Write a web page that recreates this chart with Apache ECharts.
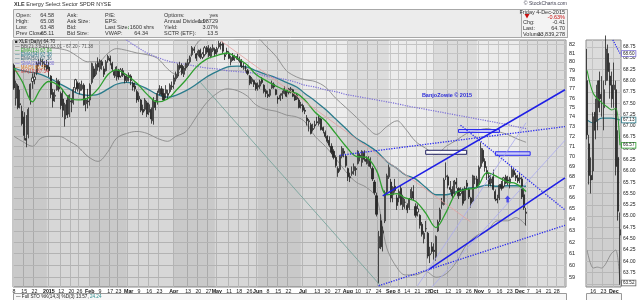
<!DOCTYPE html>
<html>
<head>
<meta charset="utf-8">
<script src="https://cdn.jsdelivr.net/npm/echarts@6/dist/echarts.min.js"></script>
<style>
html,body{margin:0;padding:0;background:#ffffff;}
#chart{width:640px;height:300px;}
</style>
</head>
<body>
<div id="chart"></div>
<script>
const FONT = '"Liberation Sans", Arial, sans-serif';

// ---------- calendar ----------
const holidays = ['2014-12-25','2015-01-01','2015-01-19','2015-02-16','2015-04-03','2015-05-25','2015-07-03','2015-09-07','2015-11-26','2015-12-25','2016-01-01'];
const firstDate = '2014-12-08';
const lastDate = '2016-01-04';
const panelFirstDate = '2015-11-11';
const panelLastDate = '2015-12-04';

// ---------- daily OHLC [open, high, low, close] ----------
const dec2014 = [[79.6,79.8,76.9,77.1],[76.0,77.9,75.2,77.6],[77.3,77.5,74.8,75.0],[75.4,76.9,74.9,75.3],[74.6,75.2,73.1,73.3],
[74.0,74.5,71.6,72.1],[71.8,74.2,70.9,71.6],[72.2,75.0,71.8,74.8],[75.8,77.6,75.3,77.5],[77.8,78.7,77.0,78.2],
[78.0,78.8,77.5,78.3],[78.8,80.0,78.5,79.8],[79.8,80.3,79.5,79.9],[80.0,80.4,79.6,80.1],[79.8,80.3,79.4,80.0],[79.7,80.1,79.1,79.4],[79.6,80.2,79.0,79.2]];
const jan2015 = [[79.4,80.0,78.3,79.0],[78.4,78.5,76.0,76.4],[76.6,77.0,75.0,75.7],[76.2,76.9,75.6,76.3],[76.9,78.2,76.8,77.9],[77.8,78.0,76.7,77.0],
[76.5,76.7,74.8,75.2],[75.9,77.0,74.0,74.7],[73.8,75.5,73.0,75.3],[75.8,76.3,73.9,74.2],[74.3,76.4,74.0,76.3],
[75.7,76.0,74.5,75.6],[75.5,77.2,75.3,76.9],[77.1,78.1,76.6,78.0],[77.6,77.8,76.7,77.0],
[76.8,77.7,76.4,77.5],[77.0,77.9,76.8,77.4],[77.4,77.6,75.2,75.3],[75.4,76.0,74.6,75.8],[75.7,77.0,74.9,75.6]];
const feb2015 = [[75.8,77.6,75.2,77.4],[77.7,79.9,77.5,79.8],[79.2,79.5,78.1,78.3],[78.6,79.9,78.4,79.7],[79.9,80.5,79.0,79.4],
[79.2,80.3,78.9,80.1],[80.0,80.2,79.1,79.6],[79.2,79.5,78.3,78.6],[79.0,80.2,78.9,80.0],[80.2,80.8,79.9,80.6],
[80.4,80.7,79.6,80.1],[79.8,80.0,78.9,79.2],[78.9,79.1,78.2,78.5],[78.4,79.5,77.9,79.4],
[79.0,79.2,78.0,78.3],[78.4,79.3,78.2,79.1],[79.0,79.3,78.3,78.5],[78.4,78.6,77.6,77.9],[77.9,78.6,77.7,78.3]];
const mar2015 = [[78.3,78.8,77.8,78.5],[78.4,78.6,77.4,77.9],[77.6,77.8,76.8,77.2],[77.3,77.7,76.7,77.0],[76.7,76.9,75.5,75.8],
[75.9,76.6,75.6,76.2],[75.8,75.9,74.5,74.7],[74.8,75.3,74.2,74.5],[74.8,76.0,74.6,75.8],[75.5,75.7,74.0,74.3],
[74.5,75.5,74.2,75.3],[74.8,75.0,73.3,73.8],[73.6,76.1,73.2,75.8],[75.6,75.8,74.7,75.0],[75.6,76.8,75.3,76.5],
[76.6,77.4,76.3,77.0],[77.0,77.3,76.2,76.4],[76.5,77.0,75.7,75.8],[76.5,77.4,76.0,76.9],[76.5,76.9,75.9,76.3],
[76.7,77.6,76.5,77.4],[77.2,77.8,76.9,77.3]];
const apr2015 = [[77.5,78.5,77.0,78.2],[78.1,78.9,77.8,78.6],[78.4,79.8,78.2,79.6],[79.6,80.0,79.1,79.3],[79.6,79.8,78.5,78.7],
[78.6,79.5,78.3,79.3],[79.3,79.9,79.0,79.8],[79.6,80.3,79.4,79.9],[80.0,80.7,79.8,80.5],[80.8,81.8,80.6,81.6],
[81.4,81.7,81.0,81.3],[80.9,81.0,80.1,80.4],[80.8,81.4,80.6,81.2],[81.3,81.5,80.3,80.5],[80.5,81.1,80.3,80.9],
[80.8,81.8,80.6,81.6],[81.6,81.8,80.9,81.1],[81.5,81.9,80.5,80.7],[80.6,81.7,80.4,81.5],[81.3,82.0,81.1,81.6],[81.4,81.6,80.6,80.9]];
const may2015 = [[81.1,81.7,80.8,81.5],[81.7,82.4,81.5,82.1],[82.0,82.3,81.4,81.9],[82.1,82.3,80.9,81.2],[80.8,81.0,80.2,80.6],
[81.2,81.6,80.8,81.1],[81.0,81.2,80.3,80.4],[80.0,80.7,79.6,80.5],[80.7,81.0,80.1,80.2],[80.5,80.8,80.1,80.6],
[80.6,80.9,80.2,80.3],[80.1,80.6,79.9,80.4],[80.2,80.3,79.3,79.5],[79.5,79.9,79.1,79.4],[79.3,79.6,78.9,79.3],
[79.0,79.2,78.5,78.7],[78.4,78.5,77.4,77.6],[77.8,78.3,77.5,78.1],[77.9,78.0,77.2,77.5],[77.6,77.7,76.8,77.0]];
const jun2015 = [[77.2,77.7,76.8,77.4],[77.3,78.0,77.0,77.8],[78.0,78.3,77.5,77.7],[77.4,77.5,76.5,76.7],[76.8,77.0,76.1,76.5],
[76.4,76.8,76.0,76.2],[76.3,77.0,76.1,76.9],[77.1,77.9,77.0,77.6],[77.5,77.7,77.0,77.2],[76.9,77.0,76.3,76.4],
[76.0,76.2,75.4,75.9],[75.9,76.5,75.7,76.3],[76.3,76.8,75.9,76.5],[76.5,77.3,76.4,77.0],[76.8,76.9,76.1,76.2],
[76.6,77.1,76.4,76.9],[76.9,77.2,76.5,77.0],[76.9,77.0,76.1,76.2],[76.3,76.6,75.7,75.8],[75.9,76.5,75.8,76.3],
[75.8,76.0,74.9,75.0],[75.3,75.6,74.9,75.2]];
const jul2015 = [[75.2,75.4,74.5,74.7],[74.7,75.0,74.3,74.6],[73.9,74.2,73.1,73.6],[73.5,73.8,72.5,73.6],[73.2,73.4,72.2,72.3],
[72.8,73.3,72.5,72.7],[73.2,73.6,72.8,73.1],[73.5,74.0,73.2,73.4],[73.3,74.1,73.1,73.9],[73.8,73.9,72.6,72.7],
[72.9,73.0,72.3,72.6],[72.4,72.6,71.8,72.0],[72.0,72.1,71.3,71.5],[71.6,72.0,70.9,71.1],[71.0,71.3,70.2,70.4],
[70.5,70.7,69.7,69.9],[69.9,70.1,68.9,69.1],[68.8,69.0,68.0,68.4],[68.7,70.1,68.5,70.0],[70.0,71.0,69.8,70.8],
[70.5,70.8,69.9,70.3],[70.0,70.2,68.9,69.1]];
const aug2015 = [[68.8,68.9,67.6,68.0],[68.0,68.4,67.5,67.9],[68.3,69.0,68.1,68.5],[68.6,69.3,68.2,69.0],[68.8,69.0,68.1,68.7],
[69.3,70.6,69.2,70.5],[70.1,70.3,69.5,69.9],[69.4,70.6,69.0,70.5],[70.3,70.6,69.5,69.7],[69.7,70.0,69.2,69.5],
[69.3,70.0,69.0,69.8],[69.7,69.9,68.8,69.0],[68.8,69.0,67.6,67.8],[67.5,67.7,66.3,66.5],[66.2,66.5,64.3,64.5],
[61.5,63.0,58.5,62.5],[63.9,64.5,61.4,61.6],[62.8,63.4,61.2,63.0],[63.9,66.7,63.7,66.5],[66.6,68.3,66.4,68.1],
[68.0,69.2,67.8,68.9]];
const sep2015 = [[67.5,67.8,65.6,66.0],[66.3,67.1,65.6,67.0],[67.1,67.8,66.5,66.7],[66.0,66.3,64.9,65.3],
[66.0,66.8,65.6,66.6],[66.9,67.2,65.3,65.4],[65.2,66.3,64.9,66.0],[65.6,65.9,65.0,65.6],
[65.3,65.5,64.6,64.9],[65.1,66.0,64.9,65.9],[66.0,67.0,65.9,66.8],[66.6,67.2,65.8,66.0],[65.2,65.5,64.2,64.4],
[64.7,65.4,64.3,65.0],[64.4,64.5,63.2,63.5],[63.6,63.8,62.5,62.7],[62.3,63.0,61.9,62.8],[63.2,63.9,62.9,63.2],
[62.8,62.9,60.6,60.8],[60.9,61.6,60.2,61.0],[61.6,62.0,61.0,61.2]];
const oct2015 = [[61.3,61.9,60.5,61.2],[60.7,62.6,60.4,62.5],[63.0,64.0,62.9,63.8],[64.0,65.1,63.8,64.9],[65.4,66.0,65.0,65.6],
[65.4,67.9,65.3,67.7],[68.0,69.4,67.7,68.1],[68.0,68.2,66.9,67.2],[67.0,67.6,66.5,66.8],[66.8,67.1,65.9,66.2],
[66.4,67.7,66.2,67.6],[67.5,67.9,66.9,67.3],[66.9,67.0,65.9,66.2],[66.4,67.0,66.2,66.6],[66.8,66.9,65.3,65.5],
[65.8,67.1,65.7,66.9],[67.4,67.7,66.8,67.1],[66.8,66.9,65.9,66.1],[66.0,66.1,65.1,65.5],[65.7,68.2,65.6,68.1],
[67.8,68.1,67.3,67.8],[67.8,68.1,66.9,67.0]];
const nov2015 = [[67.3,69.1,67.1,68.9],[69.0,71.4,68.8,70.8],[70.6,70.8,69.3,69.5],[69.5,69.8,68.5,68.9],[68.6,69.0,67.7,68.3],
[68.1,68.4,67.0,67.3],[67.4,68.2,67.1,67.8],[68.0,68.7,66.7,66.8],[66.6,66.8,65.7,65.9],[65.9,66.3,65.5,65.8],
[66.0,67.3,65.8,67.2],[67.3,67.6,66.7,66.9],[67.1,68.0,66.9,67.9],[68.0,68.2,67.3,67.4],[67.7,68.1,67.2,67.6],
[67.4,68.0,66.9,67.8],[68.0,69.0,67.9,68.7],[68.6,68.8,68.0,68.2],[68.1,68.4,67.6,67.9],[67.9,68.2,67.4,67.6]];
const dec2015 = [[67.8,68.4,67.4,67.9],[67.8,68.0,65.9,66.1],[66.3,66.9,64.9,65.11],[64.58,65.08,63.48,64.70]];

// ---------- overlays read at week ends ----------
const weekEnds = ['2014-12-08','2014-12-12','2014-12-19','2014-12-26','2015-01-02','2015-01-09','2015-01-16','2015-01-23','2015-01-30',
'2015-02-06','2015-02-13','2015-02-20','2015-02-27','2015-03-06','2015-03-13','2015-03-20','2015-03-27','2015-04-02','2015-04-10',
'2015-04-17','2015-04-24','2015-05-01','2015-05-08','2015-05-15','2015-05-22','2015-05-29','2015-06-05','2015-06-12','2015-06-19',
'2015-06-26','2015-07-02','2015-07-10','2015-07-17','2015-07-24','2015-07-31','2015-08-07','2015-08-14','2015-08-21','2015-08-28',
'2015-09-04','2015-09-11','2015-09-18','2015-09-25','2015-10-02','2015-10-09','2015-10-16','2015-10-23','2015-10-30','2015-11-06',
'2015-11-13','2015-11-20','2015-11-27','2015-12-04'];
const emaGreen = [79.3, 77.8,75.6,77.0, 77.8,77.3,76.0,75.8,76.0, 77.0,78.6,79.1,78.5, 77.6,76.4,75.6,75.9, 76.8,78.0,79.4,80.3,
80.7,81.0,80.4,79.6,78.6, 77.9,77.3,76.8,76.5, 75.8,74.5,73.6,72.3,71.0, 70.0,69.9,68.6,66.3, 66.4,66.0,65.7,64.6,
63.3,64.7,66.5,66.8,67.0, 68.4,68.0,67.5,67.35, 66.6];
const emaTeal = [79.3, 79.0,78.8,78.6, 78.2,77.6,77.0,76.5,76.3, 76.4,77.0,77.5,77.7, 77.5,77.0,76.4,76.1, 76.3,76.8,77.5,78.3,
78.9,79.4,79.5,79.4,79.0, 78.6,78.2,77.7,77.2, 76.5,75.7,74.8,73.8,72.8, 71.8,71.2,70.5,69.5, 68.8,68.2,67.8,67.0,
66.3,66.3,66.6,66.9,67.0, 67.2,67.1,67.15,67.15, 67.1];
const bbUpper = [86.0, 84.0,82.5,81.8, 81.6,81.5,81.2,80.6,80.0, 80.0,81.0,81.5,81.3, 81.0,80.8,80.4,79.2, 78.6,79.8,82.0,83.0,
83.2,82.9,82.6,82.6,82.8, 81.8,80.6,79.0,78.3, 78.0,77.8,77.2,76.0,75.0, 74.0,73.0,72.2,73.0, 73.6,72.8,71.5,70.8,
70.2,71.0,71.6,72.3,72.6, 72.8,72.5,72.2,71.8, 71.4];
const bbLower = [72.0, 71.5,71.0,71.8, 72.0,72.0,71.5,71.0,70.0, 69.5,70.5,71.8,72.3, 72.5,72.3,71.8,71.5, 72.0,72.5,74.0,75.5,
76.5,77.0,76.8,76.2,75.3, 74.8,74.6,74.2,74.0, 73.5,72.0,71.0,69.8,68.5, 67.5,67.0,66.0,61.5, 59.8,59.2,59.2,59.5,
59.0,59.3,60.3,61.8,62.6, 63.0,63.9,63.9,64.2, 63.5];
const sma200 = [91.3, 91.0,90.2,89.5, 88.8,88.1,87.4,86.7,86.0, 85.3,84.6,83.6,82.5, 81.7,81.0,80.5,80.1, 79.9,79.7,79.5,79.3,
79.2,79.0,78.9,78.8,78.7, 78.4,78.2,78.0,77.7, 77.4,77.2,76.9,76.7,76.4, 76.2,76.0,75.8,75.6, 75.4,75.2,75.0,74.8,
74.6,74.4,74.2,74.0,73.8, 73.6,73.4,73.2,73.0, 72.8];

// right-hand panel overlays
const panelGreen = [['2015-11-11',68.23],['2015-11-16',67.72],['2015-11-20',67.52],['2015-11-25',67.41],['2015-11-30',67.35],['2015-12-02',67.39],['2015-12-04',66.57]];
const panelTeal = [['2015-11-11',67.13],['2015-11-16',67.06],['2015-11-20',67.17],['2015-11-30',67.17],['2015-12-04',67.13]];
const panelLower = [['2015-11-11',64.25],['2015-11-16',63.85],['2015-11-18',63.87],['2015-11-20',63.85],['2015-11-30',64.18],['2015-12-02',64.25],['2015-12-04',63.52]];
const panelTrend = [['2015-11-30', 68.95], ['2015-12-04', 68.6]];

// ---------- annotations (data coordinates) ----------
const trendLines = [
  ['solid',  '2015-08-26', 66.2,  '2016-01-04', 76.9],
  ['solid',  '2015-09-28', 59.6,  '2016-01-04', 67.9],
  ['dotted', '2015-07-28', 70.1,  '2016-01-04', 73.0],
  ['dotted', '2015-08-24', 58.3,  '2016-01-04', 63.5],
  ['dotted', '2015-10-20', 73.15, '2016-01-04', 64.9],
  ['faint',  '2015-09-21', 58.3,  '2015-12-04', 73.4],
  ['faint',  '2015-09-30', 58.2,  '2016-01-04', 71.6],
  ['pink',   '2015-05-05', 82.4,  '2015-10-27', 63.8],
  ['teal',   '2015-04-21', 77.7,  '2015-08-25', 58.3]
];
const boxes = [
  ['dark', '2015-09-25', 70.6,  '2015-10-23', 70.2],
  ['blue', '2015-10-19', 72.7,  '2015-11-16', 72.4],
  ['blue', '2015-11-12', 70.45, '2015-12-08', 70.1]
];
const arrowMark = [['2015-11-20', 65.9]];
const altMonths = [['2014-12-08','2014-12-31'],['2015-02-02','2015-02-27'],['2015-04-01','2015-04-30'],['2015-06-01','2015-06-30'],
['2015-08-03','2015-08-31'],['2015-10-01','2015-10-30'],['2015-12-01','2016-01-04']];

// ---------- tick labels ----------
const xTickLabels = [['2014-12-08','8'],['2014-12-15','15'],['2014-12-22','22'],['2015-01-02','2015'],['2015-01-12','12'],['2015-01-20','20'],
['2015-01-26','26'],['2015-02-02','Feb'],['2015-02-09','9'],['2015-02-17','17'],['2015-02-23','23'],['2015-03-02','Mar'],['2015-03-09','9'],
['2015-03-16','16'],['2015-03-23','23'],['2015-04-01','Apr'],['2015-04-13','13'],['2015-04-20','20'],['2015-04-27','27'],['2015-05-01','May'],
['2015-05-11','11'],['2015-05-18','18'],['2015-05-26','26'],['2015-06-01','Jun'],['2015-06-08','8'],['2015-06-15','15'],['2015-06-22','22'],
['2015-07-01','Jul'],['2015-07-13','13'],['2015-07-20','20'],['2015-07-27','27'],['2015-08-03','Aug'],['2015-08-10','10'],['2015-08-17','17'],
['2015-08-24','24'],['2015-09-01','Sep'],['2015-09-08','8'],['2015-09-14','14'],['2015-09-21','21'],['2015-09-28','28'],['2015-10-01','Oct'],
['2015-10-12','12'],['2015-10-19','19'],['2015-10-26','26'],['2015-11-02','Nov'],['2015-11-09','9'],['2015-11-16','16'],['2015-11-23','23'],
['2015-12-01','Dec'],['2015-12-07','7'],['2015-12-14','14'],['2015-12-21','21'],['2015-12-28','28'],['2016-01-04','2016']];
const panelXLabels = [['2015-11-16','16'],['2015-11-23','23'],['2015-12-01','Dec']];
const priceTicks = [59,60,61,62,63,64,65,66,67,68,69,70,71,72,73,74,75,76,77,78,79,80,81,82];
const panelTicks = [63.50,63.75,64.00,64.25,64.50,64.75,65.00,65.25,65.50,65.75,66.00,66.25,66.50,66.75,67.00,67.25,67.50,67.75,68.00,68.25,68.50,68.75];

// ---------- build ----------
function tradingDays(a, b) {
  const out = []; const d = new Date(a + 'T00:00:00Z'); const e = new Date(b + 'T00:00:00Z');
  while (d <= e) { const w = d.getUTCDay(); const s = d.toISOString().slice(0, 10);
    if (w !== 0 && w !== 6 && holidays.indexOf(s) < 0) out.push(s); d.setUTCDate(d.getUTCDate() + 1); }
  return out;
}
const dates = tradingDays(firstDate, lastDate);
const panelDates = tradingDays(panelFirstDate, panelLastDate);
const rows = [].concat(dec2014, jan2015, feb2015, mar2015, apr2015, may2015, jun2015, jul2015, aug2015, sep2015, oct2015, nov2015, dec2015);
const candleData = rows.map(r => [r[0], r[3], r[2], r[1]]);
const panelCandles = candleData.slice(dates.indexOf(panelFirstDate));
const pairs = vals => weekEnds.map((d, i) => [d, vals[i]]);
const labelMap = new Map(xTickLabels);
const panelLabelMap = new Map(panelXLabels);
const fmtLabel = (m) => (v) => { const t = m.get(v) || ''; return /^\d+$/.test(t) && t.length < 4 ? t : '{b|' + t + '}'; };

const lineStyles = {
  solid:  {color: '#1f1fe6', width: 1.6, type: 'solid'},
  dotted: {color: '#2a2aee', width: 1.3, type: 'dotted'},
  faint:  {color: '#a9a9ef', width: 0.8, type: 'solid'},
  pink:   {color: '#e3a0a0', width: 0.8, type: 'solid'},
  teal:   {color: '#6f9f97', width: 0.8, type: 'solid'}
};
const boxStyles = {
  dark: {color: 'rgba(255,255,255,0.85)', borderColor: '#202060', borderWidth: 1},
  blue: {color: 'rgba(190,190,255,0.7)', borderColor: '#2a2aee', borderWidth: 1}
};
const endLbl = (col) => ({show: true, formatter: p => p.value[1].toFixed(2), fontSize: 4.6, color: '#222', fontFamily: FONT,
  backgroundColor: '#ffffff', borderColor: col, borderWidth: 0.8, padding: [0, 1], distance: 2});

const chart = echarts.init(document.getElementById('chart'), null, {renderer: 'canvas'});

function txt(x, y, text, o) {
  o = o || {};
  return {type: 'text', x: x, y: y, silent: true, z: 100, style: Object.assign({
    text: text, fontSize: 5.5, fontFamily: FONT, fill: '#333',
    align: o.align || 'left', textAlign: o.align || 'left', verticalAlign: 'middle', textVerticalAlign: 'middle'}, o.style || {})};
}
const hdr = [];
hdr.push({type: 'rect', shape: {x: 13.5, y: 9.5, width: 554, height: 28}, style: {fill: '#ececec', stroke: '#a8a8a8', lineWidth: 1}, silent: true, z: 90});
hdr.push({type: 'rect', shape: {x: 521.5, y: 9.5, width: 46, height: 28}, style: {fill: '#f3f3f3', stroke: '#a8a8a8', lineWidth: 1}, silent: true, z: 91});
hdr.push(txt(14, 4, '{b|XLE} Energy Select Sector SPDR NYSE', {style: {fontSize: 5.5, rich: {b: {fontWeight: 'bold', fontSize: 5.5, fontFamily: FONT}}}}));
hdr.push(txt(567, 4, '© StockCharts.com', {align: 'right', style: {fill: '#445', fontSize: 5}}));
const rowY = [15.5, 21.5, 27.5, 33.5];
[['Open:', '64.58'], ['High:', '65.08'], ['Low:', '63.48'], ['Prev Close:', '65.11']].forEach((r, i) => { hdr.push(txt(16, rowY[i], r[0])); hdr.push(txt(54, rowY[i], r[1], {align: 'right'})); });
['Ask:', 'Ask Size:', 'Bid:', 'Bid Size:'].forEach((r, i) => hdr.push(txt(67, rowY[i], r)));
['P/E:', 'EPS:', 'Last Size:', 'VWAP:'].forEach((r, i) => hdr.push(txt(105, rowY[i], r)));
hdr.push(txt(127, rowY[2], '{g|↓}1600 shrs', {style: {rich: {g: {fill: '#1a9a1a', fontSize: 5.5, fontWeight: 'bold'}}}}));
hdr.push(txt(148, rowY[3], '64.34', {align: 'right'}));
[['Options:', 'yes'], ['Annual Dividend:', '1.98729'], ['Yield:', '3.07%'], ['SCTR (ETF):', '13.5']].forEach((r, i) => { hdr.push(txt(164, rowY[i], r[0])); hdr.push(txt(218, rowY[i], r[1], {align: 'right'})); });
hdr.push(txt(565, 12, 'Friday 4-Dec-2015', {align: 'right'}));
hdr.push({type: 'polygon', shape: {points: [[524.5, 14], [529.5, 14], [527, 18.5]]}, style: {fill: '#c81010'}, silent: true, z: 100});
hdr.push(txt(565, 17, '-0.63%', {align: 'right', style: {fill: '#c81010'}}));
hdr.push(txt(523, 22.5, 'Chg:')); hdr.push(txt(565, 22.5, '-0.41', {align: 'right'}));
hdr.push(txt(523, 28.5, 'Last:')); hdr.push(txt(565, 28.5, '64.70', {align: 'right'}));
hdr.push(txt(523, 34.3, 'Volume:')); hdr.push(txt(565, 34.3, '33,839,278', {align: 'right'}));
// in-plot legend
const legendRows = [
  ['■', 'XLE (Daily) 64.70', '#222'],
  ['—', 'BB(21,3.2,21) 63.01 - 67.20 - 71.38', '#555'],
  ['—', 'EMA(13) 67.04', '#2f9f2f'],
  ['—', 'EMA(34) 67.38', '#2b7c8c'],
  ['—', 'EMA(50) 67.36', '#3d6878'],
  ['—', 'SMA(200) 72.80', '#7b6fd6'],
  ['—', 'MA(5) 66.57', '#e07a2a'],
  ['—', 'MA(10) 67.34', '#d23c3c']
];
legendRows.forEach((r, i) => hdr.push(txt(15, 42 + i * 4.3, r[0] + ' ' + r[1], {style: {fill: r[2], fontSize: 4.6}})));
hdr.push(txt(447, 95, 'BanjoZowie © 2015', {align: 'center', style: {fill: '#2a2ad8', fontSize: 5.5, fontWeight: 'bold'}}));
// bottom indicator strips
hdr.push({type: 'rect', shape: {x: 13.5, y: 293.5, width: 553, height: 8}, style: {fill: '#f7f7f7', stroke: '#999', lineWidth: 1}, silent: true, z: 90});
hdr.push({type: 'rect', shape: {x: 586.5, y: 293.5, width: 35, height: 8}, style: {fill: '#f7f7f7', stroke: '#999', lineWidth: 1}, silent: true, z: 90});
hdr.push(txt(16, 297, '— Full STO %K(14,3) %D(3) 13.57, {t|24.24}', {style: {fontSize: 4.6, fill: '#222', rich: {t: {fill: '#2b8c8c', fontSize: 4.6}}}}));

const option = {
  animation: false,
  backgroundColor: '#ffffff',
  textStyle: {fontFamily: FONT},
  graphic: {elements: hdr},
  grid: [
    {left: 13, top: 40, width: 553, height: 247, show: true, backgroundColor: '#ececec', borderColor: '#8c8c8c', borderWidth: 1},
    {left: 586, top: 40, width: 35, height: 247, show: true, backgroundColor: '#dcdcdc', borderColor: '#8c8c8c', borderWidth: 1}
  ],
  xAxis: [
    {type: 'category', gridIndex: 0, data: dates, boundaryGap: true,
     axisLine: {show: false}, axisTick: {show: false},
     axisLabel: {interval: (i, v) => labelMap.has(v), formatter: fmtLabel(labelMap), fontSize: 5.3, color: '#222', margin: 2.5, fontFamily: FONT,
                 rich: {b: {fontWeight: 'bold', fontSize: 5.3, fontFamily: FONT, color: '#111'}}},
     splitLine: {show: true, interval: (i, v) => labelMap.has(v), lineStyle: {color: '#c8c8c8', width: 1}}},
    {type: 'category', gridIndex: 1, data: panelDates, boundaryGap: true,
     axisLine: {show: false}, axisTick: {show: false},
     axisLabel: {interval: (i, v) => panelLabelMap.has(v), formatter: fmtLabel(panelLabelMap), fontSize: 5.3, color: '#222', margin: 2.5, fontFamily: FONT,
                 rich: {b: {fontWeight: 'bold', fontSize: 5.3, fontFamily: FONT, color: '#111'}}},
     splitLine: {show: true, interval: (i, v) => panelLabelMap.has(v), lineStyle: {color: '#c4c4c4', width: 1}}}
  ],
  yAxis: [
    {type: 'log', logBase: 10, gridIndex: 0, min: 58.2, max: 82.5, axisLabel: {show: false}, axisLine: {show: false}, axisTick: {show: false}, splitLine: {show: false}},
    {type: 'value', gridIndex: 1, min: 63.43, max: 68.9, axisLabel: {show: false}, axisLine: {show: false}, axisTick: {show: false}, splitLine: {show: false}}
  ],
  series: [
    {name: 'tealArea', type: 'line', xAxisIndex: 0, yAxisIndex: 0, z: 2, data: pairs(emaTeal), showSymbol: false, smooth: 0.35,
     lineStyle: {color: '#2b7c8c', width: 1.3}, areaStyle: {color: 'rgba(0,0,0,0.12)', origin: 'start'},
     markArea: {silent: true, z: 1, itemStyle: {color: 'rgba(0,0,0,0.065)'}, data: altMonths.map(m => [{xAxis: m[0]}, {xAxis: m[1]}])}},
    {name: 'bbLower', type: 'line', xAxisIndex: 0, yAxisIndex: 0, z: 3, data: pairs(bbLower), showSymbol: false, smooth: 0.35,
     lineStyle: {color: '#8a8a8a', width: 0.9},
     markLine: {silent: true, z: 1.5, symbol: ['none', 'none'], animation: false, lineStyle: {color: '#c4c4c4', width: 1, type: 'solid'},
       label: {show: true, position: 'end', formatter: '{b}', fontSize: 5.5, color: '#222', fontFamily: FONT, distance: 3},
       data: priceTicks.map(v => ({yAxis: v, name: String(v)}))}},
    {name: 'bbUpper', type: 'line', xAxisIndex: 0, yAxisIndex: 0, z: 3, data: pairs(bbUpper), showSymbol: false, smooth: 0.35,
     lineStyle: {color: '#8a8a8a', width: 0.9}},
    {name: 'sma200', type: 'line', xAxisIndex: 0, yAxisIndex: 0, z: 3, data: pairs(sma200), showSymbol: false, smooth: 0.35,
     lineStyle: {color: '#7b6fd6', width: 1.2, type: 'dotted'},
     markLine: {silent: true, z: 6, symbol: ['none', 'none'], animation: false, label: {show: false},
       data: trendLines.map(t => [{coord: [t[1], t[2]], lineStyle: lineStyles[t[0]]}, {coord: [t[3], t[4]]}])}},
    {name: 'XLE', type: 'candlestick', xAxisIndex: 0, yAxisIndex: 0, z: 4, data: candleData, barWidth: 1.6,
     itemStyle: {color: '#f6f6f6', color0: '#2a2a2a', borderColor: '#222', borderColor0: '#222', borderWidth: 0.8}},
    {name: 'emaGreen', type: 'line', xAxisIndex: 0, yAxisIndex: 0, z: 5, data: pairs(emaGreen), showSymbol: false, smooth: 0.35,
     lineStyle: {color: '#2f9f2f', width: 1.3},
     markArea: {silent: true, z: 6, data: boxes.map(b => [{coord: [b[1], b[2]], itemStyle: boxStyles[b[0]]}, {coord: [b[3], b[4]]}])}},
    {name: 'arrow', type: 'scatter', xAxisIndex: 0, yAxisIndex: 0, z: 7, data: arrowMark, symbol: 'path://M5,0 L10,5 L7,5 L7,10 L3,10 L3,5 L0,5 Z',
     symbolSize: [6, 7], itemStyle: {color: '#2a2aee'}},
    // right-hand zoom panel
    {name: 'pTeal', type: 'line', xAxisIndex: 1, yAxisIndex: 1, z: 2, data: panelTeal, showSymbol: false, smooth: 0.3,
     lineStyle: {color: '#2b7c8c', width: 1.1}, areaStyle: {color: 'rgba(0,0,0,0.08)', origin: 'start'}, endLabel: endLbl('#2b7c8c')},
    {name: 'pLower', type: 'line', xAxisIndex: 1, yAxisIndex: 1, z: 3, data: panelLower, showSymbol: false, smooth: 0.3,
     lineStyle: {color: '#8a8a8a', width: 0.9}, endLabel: endLbl('#666666'),
     markLine: {silent: true, z: 1.5, symbol: ['none', 'none'], animation: false, lineStyle: {color: '#c2c2c2', width: 1, type: 'solid'},
       label: {show: true, position: 'end', formatter: '{b}', fontSize: 5, color: '#222', fontFamily: FONT, distance: 2},
       data: panelTicks.map(v => ({yAxis: v, name: v.toFixed(2)}))}},
    {name: 'pTrend', type: 'line', xAxisIndex: 1, yAxisIndex: 1, z: 3, data: panelTrend, showSymbol: false,
     lineStyle: {color: '#2a2aee', width: 1.2, type: 'dotted'}, endLabel: endLbl('#7b6fd6')},
    {name: 'pXLE', type: 'candlestick', xAxisIndex: 1, yAxisIndex: 1, z: 4, data: panelCandles, barWidth: 1.5,
     itemStyle: {color: '#f6f6f6', color0: '#2a2a2a', borderColor: '#222', borderColor0: '#222', borderWidth: 0.8}},
    {name: 'pGreen', type: 'line', xAxisIndex: 1, yAxisIndex: 1, z: 5, data: panelGreen, showSymbol: false, smooth: 0.3,
     lineStyle: {color: '#2f9f2f', width: 1.1}, endLabel: endLbl('#2f9f2f')}
  ]
};
chart.setOption(option);
</script>
</body>
</html>
